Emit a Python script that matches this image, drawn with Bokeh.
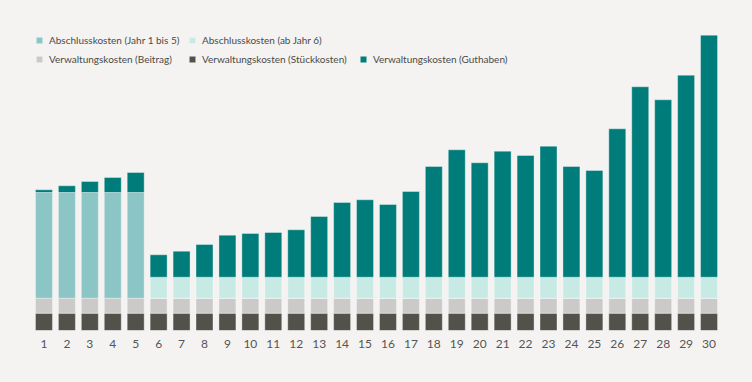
from bokeh.plotting import figure
from bokeh.models import Legend, LegendItem, Range1d, ColumnDataSource
from bokeh.embed import file_html
from bokeh.resources import INLINE

# ---- data (arbitrary cost units) ----
years = [str(i) for i in range(1, 31)]
stueckkosten = [17.3] * 30
beitrag = [15.0] * 30
abschluss_1_5 = [105.7, 105.7, 105.7, 105.7, 105.7] + [0] * 25
abschluss_ab_6 = [0] * 5 + [21.0] * 25
guthaben = [2.7, 6.7, 11.0, 15.0, 20.0, 22.4, 26.0, 32.7, 42.0, 43.7,
            44.7, 47.4, 60.7, 74.7, 77.4, 72.7, 85.7, 110.7, 127.4, 114.4,
            126.0, 121.7, 131.0, 110.7, 106.7, 148.4, 190.4, 177.4, 202.0, 242.0]

series = ["stueck", "beitrag", "abschluss_1_5", "abschluss_ab_6", "guthaben"]
labels = {
    "abschluss_1_5": "Abschlusskosten (Jahr 1 bis 5)",
    "abschluss_ab_6": "Abschlusskosten (ab Jahr 6)",
    "beitrag": "Verwaltungskosten (Beitrag)",
    "stueck": "Verwaltungskosten (Stückkosten)",
    "guthaben": "Verwaltungskosten (Guthaben)",
}
colors = ["#52524b", "#cbcac8", "#8cc5c6", "#c8eae5", "#007d7b"]

BG = "#f4f3f1"
FONT = "Lato"

source = ColumnDataSource(dict(
    years=years, stueck=stueckkosten, beitrag=beitrag,
    abschluss_1_5=abschluss_1_5, abschluss_ab_6=abschluss_ab_6,
    guthaben=guthaben,
))

p = figure(x_range=years, y_range=Range1d(0, 312), width=736, height=366,
           output_backend="svg", toolbar_location=None,
           min_border_left=32, min_border_right=16,
           min_border_top=18, min_border_bottom=36,
           y_axis_location=None)
p.background_fill_color = BG
p.border_fill_color = BG
p.outline_line_color = None
p.xgrid.grid_line_color = None
p.ygrid.grid_line_color = None

renderers = p.vbar_stack(series, x="years", width=0.74, source=source,
                         color=colors, line_color="#ffffff", line_alpha=0.35,
                         line_width=1)
rmap = dict(zip(series, renderers))

ax = p.xaxis[0]
ax.axis_line_color = None
ax.major_tick_line_color = None
ax.minor_tick_line_color = None
ax.major_label_text_font = FONT
ax.major_label_text_font_size = "12px"
ax.major_label_text_color = "#555555"
ax.major_label_standoff = 3

# legend items placed individually (screen px relative to frame bottom-left)
placements = [
    ("abschluss_1_5", 3, 284),
    ("abschluss_ab_6", 156, 284),
    ("beitrag", 3, 265),
    ("stueck", 156, 265),
    ("guthaben", 327, 265),
]
for key, lx, ly in placements:
    leg = Legend(items=[LegendItem(label=labels[key], renderers=[rmap[key]])],
                 location=(lx, ly), orientation="horizontal",
                 padding=0, margin=0, spacing=0,
                 glyph_width=8, glyph_height=8, label_standoff=6,
                 label_height=12,
                 label_text_font=FONT, label_text_font_size="10px",
                 label_text_color="#4a4a48",
                 border_line_alpha=0, background_fill_alpha=0)
    p.add_layout(leg)

html = file_html(p, INLINE)
html = html.replace("<head>", "<head><style>html,body{background:%s;}</style>" % BG, 1)
open("out.html", "w").write(html)
